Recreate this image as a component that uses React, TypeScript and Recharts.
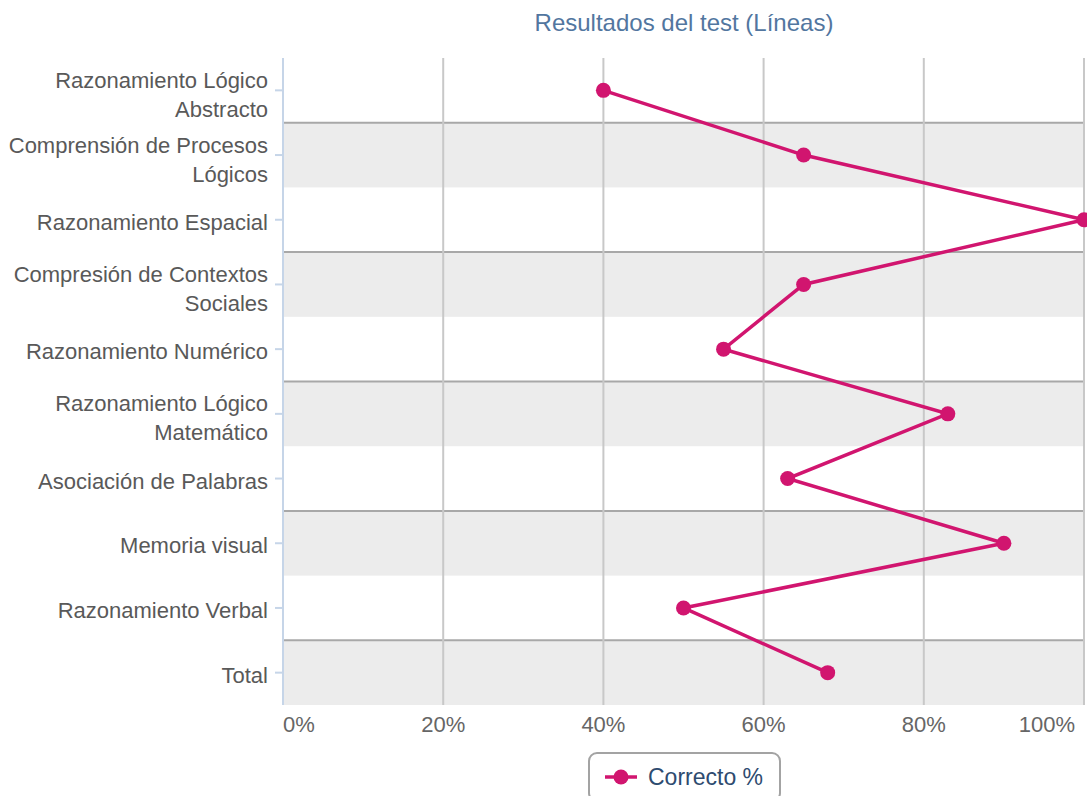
import React from 'react'
import {
  LineChart,
  Line,
  XAxis,
  YAxis,
  ReferenceArea,
  ReferenceLine,
  Legend,
} from 'recharts'

const categories = [
  'Razonamiento Lógico Abstracto',
  'Comprensión de Procesos Lógicos',
  'Razonamiento Espacial',
  'Compresión de Contextos Sociales',
  'Razonamiento Numérico',
  'Razonamiento Lógico Matemático',
  'Asociación de Palabras',
  'Memoria visual',
  'Razonamiento Verbal',
  'Total',
]
const correctPct = [40, 65, 100, 65, 55, 83, 63, 90, 50, 68]
const xTicks = [0, 20, 40, 60, 80, 100]
const seriesName = 'Correcto %'
const title = 'Resultados del test (Líneas)'

const data = categories.map((name, i) => ({ name, value: correctPct[i] }))
const shadedRows = categories.filter((_, i) => i % 2 === 1)

const FONT = '"Liberation Sans", Arial, sans-serif'
const PINK = '#d1156f'
const LABEL_SIZE = 22
const LABEL_MAX = 272
const LINE_H = 29

// greedy word wrap, measured with a canvas
let ctx: CanvasRenderingContext2D | null = null
function wrap(str: string): string[] {
  if (!ctx) {
    ctx = document.createElement('canvas').getContext('2d')
    if (ctx) ctx.font = `${LABEL_SIZE}px ${FONT}`
  }
  const words = str.split(' ')
  const lines: string[] = []
  let cur = ''
  for (const w of words) {
    const next = cur ? cur + ' ' + w : w
    const wd = ctx ? ctx.measureText(next).width : next.length * 11
    if (wd > LABEL_MAX && cur) {
      lines.push(cur)
      cur = w
    } else {
      cur = next
    }
  }
  if (cur) lines.push(cur)
  return lines
}

const YTick = (props: any) => {
  const { y, payload } = props
  const lines = wrap(payload.value)
  const first = y - ((lines.length - 1) * LINE_H) / 2 + (lines.length > 1 ? 12 : 10)
  return (
    <text x={268} textAnchor="end" fill="#595959" fontSize={LABEL_SIZE} fontFamily={FONT}>
      {lines.map((l, i) => (
        <tspan key={i} x={268} y={first + i * LINE_H}>
          {l}
        </tspan>
      ))}
    </text>
  )
}

const XTick = (props: any) => {
  const { x, payload } = props
  const v = payload.value
  const anchor = v === 0 ? 'start' : v === 100 ? 'end' : 'middle'
  return (
    <text x={x} y={732} textAnchor={anchor} fill="#666" fontSize={22} fontFamily={FONT}>
      {v}%
    </text>
  )
}

const Band = (props: any) => {
  const { x, y, width, height } = props
  return (
    <g>
      <rect x={x} y={y} width={width} height={height} fill="#ececec" />
      <line x1={x} x2={x + width} y1={y} y2={y} stroke="#a8a8a8" strokeWidth={2} />
    </g>
  )
}

const LegendBox = () => (
  <div
    style={{
      width: 193,
      height: 50,
      border: '2px solid #a3a3a3',
      borderRadius: 9,
      display: 'flex',
      alignItems: 'center',
      boxSizing: 'border-box',
      paddingLeft: 14,
      fontFamily: FONT,
    }}
  >
    <svg width={34} height={18} style={{ marginRight: 10 }}>
      <line x1={1} x2={33} y1={9} y2={9} stroke={PINK} strokeWidth={3.5} />
      <circle cx={17} cy={9} r={7.5} fill={PINK} />
    </svg>
    <span style={{ fontSize: 23, color: '#2e4b6f' }}>{seriesName}</span>
  </div>
)

export default function App() {
  return (
    <div style={{ position: 'absolute', left: 0, top: 0, width: 1087, height: 796, background: '#fff', overflow: 'hidden' }}>
      <div
        style={{
          position: 'absolute',
          left: 283,
          width: 802,
          top: 9,
          textAlign: 'center',
          fontFamily: FONT,
          fontSize: 24,
          color: '#52769f',
          zIndex: 2,
        }}
      >
        {title}
      </div>
      <LineChart
        width={1087}
        height={796}
        data={data}
        layout="vertical"
        margin={{ top: 58, right: 3, bottom: 51, left: 0 }}
      >
        {shadedRows.map((c) => (
          <ReferenceArea key={c} y1={c} y2={c} shape={<Band />} ifOverflow="extendDomain" />
        ))}
        {xTicks.slice(1).map((t) => (
          <ReferenceLine key={t} x={t} stroke="#c8c8c8" strokeWidth={2} />
        ))}
        <XAxis
          type="number"
          domain={[0, 100]}
          ticks={xTicks}
          axisLine={false}
          tickLine={false}
          height={40}
          tick={<XTick />}
        />
        <YAxis
          type="category"
          dataKey="name"
          scale="band"
          width={283}
          axisLine={{ stroke: '#c6d5e8', strokeWidth: 2 }}
          tickLine={{ stroke: '#c6d5e8', strokeWidth: 2 }}
          tickSize={8}
          tick={<YTick />}
          interval={0}
        />
        <Line
          dataKey="value"
          name={seriesName}
          stroke={PINK}
          strokeWidth={3.5}
          dot={{ r: 7.5, fill: PINK, stroke: 'none' }}
          isAnimationActive={false}
        />
        <Legend
          content={<LegendBox />}
          wrapperStyle={{ position: 'absolute', left: 588, top: 752, bottom: 'auto', width: 193, height: 0 }}
        />
      </LineChart>
    </div>
  )
}
